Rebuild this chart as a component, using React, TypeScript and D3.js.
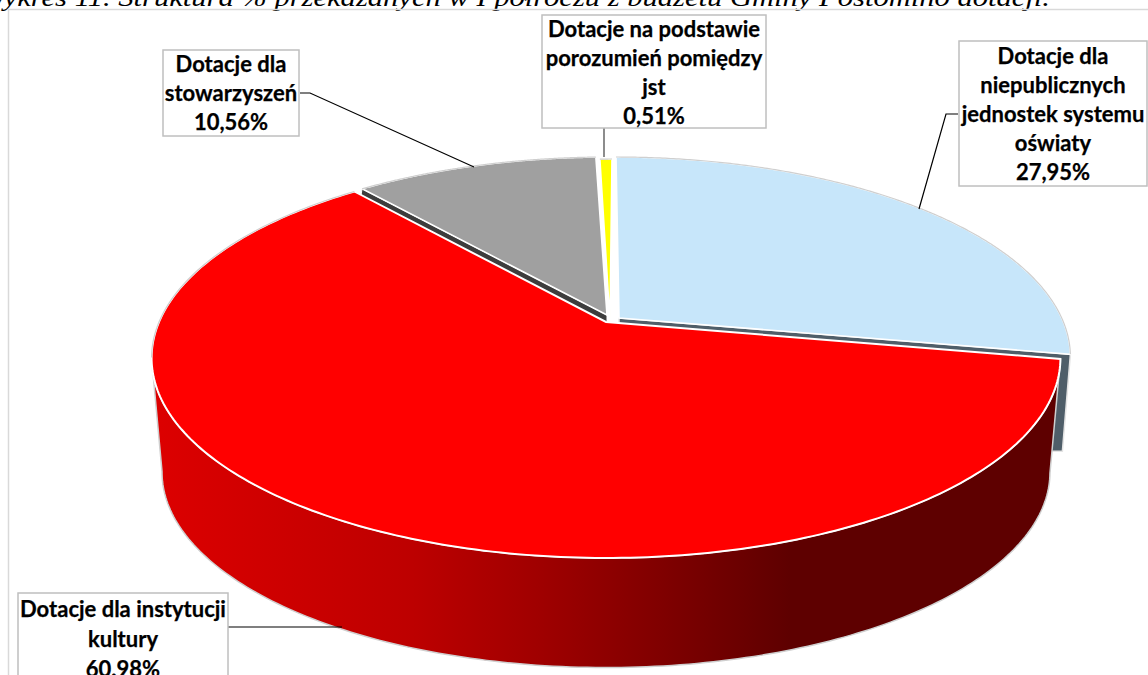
import React from "react";
import * as d3 from "d3";

const titleText = "Wykres 11. Struktura % przekazanych w I półroczu z budżetu Gminy Postomino dotacji.";
const sliceNames = ["niepubliczne", "kultura", "stowarzyszenia", "porozumienia"];
const sliceValues = [27.95, 60.98, 10.56, 0.51];
const sliceColors = ["#c7e6fa", "#ff0000", "#a0a0a0", "#ffff00"];
const labelLines = [
  ["Dotacje dla", "niepublicznych", "jednostek systemu", "oświaty", "27,95%"],
  ["Dotacje dla instytucji", "kultury", "60.98%"],
  ["Dotacje dla", "stowarzyszeń", "10,56%"],
  ["Dotacje na podstawie", "porozumień pomiędzy", "jst", "0,51%"],
];

// geometry of the tilted pie
const CX = 606, CY = 322, A = 447, B = 193.5, K = 0.18, DEPTH = 115, LOWER_SCALE = 0.977;
// per-slice displacement: rim, apex and small angular correction (degrees) of the perspective
const rimOffset = [[10, -1], [0, 0], [2, -1], [6, 1]];
const apexOffset = [[13, -4], [0, 0], [1, -7], [4, 0]];
const angleAdjust = [[0, -1], [0, 0], [1, 0], [0, 0]];
// label layout: box [x0,y0,x1,y1], first line centre y, line step, leader points
const boxes = [
  { box: [959, 41, 1147, 186], y0: 56, step: 29, leader: [[958, 114], [946, 114], [919, 209]] },
  { box: [18, 593, 228, 690], y0: 609, step: 30, leader: [[228, 627], [342, 627]] },
  { box: [163, 50, 299, 136], y0: 64, step: 29, leader: [[300, 93], [310, 93], [474, 167]] },
  { box: [542, 15, 766, 128], y0: 29, step: 29, leader: [[604, 128], [604, 157]] },
];

const project = (t: number, scale = 1, dy = 0): [number, number] => {
  const u = Math.sin(t), v = Math.cos(t), w = 1 + K * v;
  return [CX + (scale * A * u) / w, CY + dy - (scale * B * v) / w];
};
const rim = (t0: number, t1: number, scale = 1, dy = 0, off = [0, 0]) =>
  d3.range(0, 241).map((i) => {
    const p = project(t0 + ((t1 - t0) * i) / 240, scale, dy);
    return [p[0] + off[0], p[1] + off[1]] as [number, number];
  });
const line = d3.line();
const rad = (d: number) => (d * Math.PI) / 180;

export default function App() {
  const arcs = d3.pie<number>().sort(null).startAngle(0).endAngle(2 * Math.PI)(sliceValues);
  const top = arcs.map((a, i) => {
    const pts = rim(a.startAngle + rad(angleAdjust[i][0]), a.endAngle + rad(angleAdjust[i][1]), 1, 0, rimOffset[i]);
    const apex: [number, number] = [CX + apexOffset[i][0], CY + apexOffset[i][1]];
    return { pts, apex, d: line([apex, ...pts])! + "Z" };
  });
  const red = arcs[1];
  // side face: front rim up to the left silhouette, then back along the lower rim
  const redTop = top[1].pts;
  const redLow = rim(red.startAngle + rad(angleAdjust[1][0]), red.endAngle + rad(angleAdjust[1][1]), LOWER_SCALE, DEPTH, rimOffset[1]);
  const iT = d3.leastIndex(redTop, (a, b) => a[0] - b[0])!;
  const sideD = line([...redTop.slice(0, iT + 1), ...redLow.slice(0, iT + 1).reverse()])! + "Z";

  // side faces of the displaced slices
  const bPts = top[0].pts, bCorner = bPts[bPts.length - 1], bApex = top[0].apex;
  const blueSide = line([
    bApex, bCorner,
    [bCorner[0] - 8, bCorner[1] + 97],
    [bCorner[0] - 20, bCorner[1] + 97],
    [bCorner[0] - 20, bCorner[1] + 14],
    [bApex[0], bApex[1] + 12],
  ])! + "Z";
  const gPts = top[2].pts, gCorner = gPts[0], gApex = top[2].apex;
  const graySide = line([
    gCorner, gApex, [gApex[0], gApex[1] + 12], [gCorner[0] - 2, gCorner[1] + 12],
  ])! + "Z";

  return (
    <svg width={1148} height={675} viewBox="0 0 1148 675"
      style={{ position: "absolute", left: 0, top: 0, background: "#fff" }}>
      <defs>
        <linearGradient id="side" gradientUnits="userSpaceOnUse" x1={160} x2={790} y1={0} y2={0}>
          <stop offset="0" stopColor="#dc0000" />
          <stop offset="0.4" stopColor="#bd0000" />
          <stop offset="0.6" stopColor="#a00000" />
          <stop offset="1" stopColor="#5e0000" />
        </linearGradient>
      </defs>

      <text x={-19} y={6} fontFamily="'Liberation Serif', serif" fontStyle="italic" fontSize={25}
        textLength={1069} lengthAdjust="spacingAndGlyphs" fill="#000">{titleText}</text>
      <path d="M1148,9.5H8.5V675" fill="none" stroke="#d9d9d9" strokeWidth={1.5} />

      {/* side faces */}
      <path d={blueSide} fill="#4f5e69" stroke="#e4e4e4" strokeWidth={1.5} />
      <path d={sideD} fill="url(#side)" stroke="#cfcfcf" strokeWidth={1.5} />
      <path d={graySide} fill="#3d3d3d" stroke="#fff" strokeWidth={1} />

      {/* top faces */}
      {top.map((s, i) => (
        <path key={sliceNames[i]} d={s.d} fill={sliceColors[i]} stroke="#fff" strokeWidth={i === 1 ? 2 : 1.6}
          strokeLinejoin="miter" />
      ))}
      {/* grey outer rim on the back of the pie */}
      {[0, 2, 3].map((i) => (
        <path key={i} d={line(top[i].pts)!} fill="none" stroke="#cfcfcf" strokeWidth={1.2} />
      ))}
      <path d={line(redTop.slice(Math.round(redTop.length * 0.72)))!}
        fill="none" stroke="#cfcfcf" strokeWidth={1.2} />

      {/* labels */}
      {boxes.map((b, i) => (
        <g key={i}>
          <path d={line(b.leader as [number, number][])!} fill="none" stroke={i === 3 ? "#404040" : "#000"} strokeWidth={1.2} />
          <rect x={b.box[0]} y={b.box[1]} width={b.box[2] - b.box[0]} height={b.box[3] - b.box[1]}
            fill="#fff" stroke="#bfbfbf" strokeWidth={1.5} />
          {labelLines[i].map((t, j) => (
            <text key={j} x={(b.box[0] + b.box[2]) / 2} y={b.y0 + j * b.step} dy="0.35em"
              textAnchor="middle" fontFamily="Lato, 'Noto Sans', sans-serif" fontWeight={700}
              fontSize={22} stroke="#000" strokeWidth={0.25} fill="#000">{t}</text>
          ))}
        </g>
      ))}
    </svg>
  );
}
